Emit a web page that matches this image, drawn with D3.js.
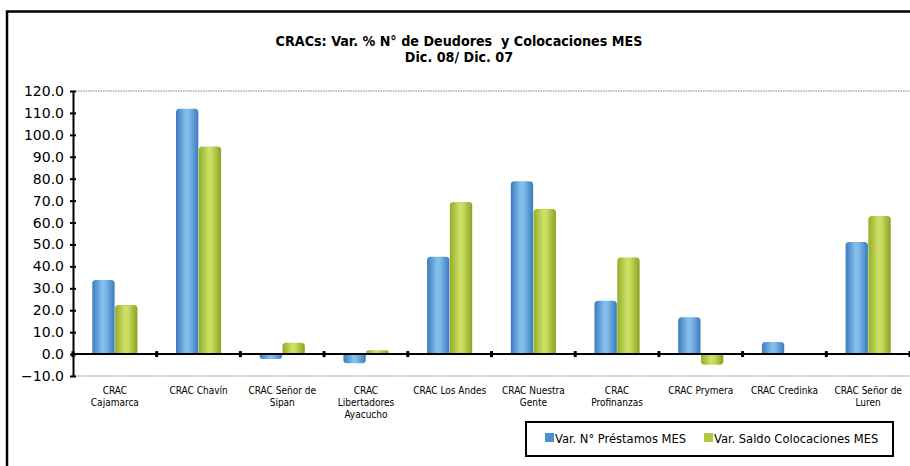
<!DOCTYPE html>
<html><head><meta charset="utf-8">
<script src="https://cdn.jsdelivr.net/npm/d3@7"></script>
<style>
html,body{margin:0;padding:0;background:#fff;}
svg{display:block;}
</style></head>
<body>
<svg id="chart" width="910" height="466"></svg>
<script>
const titleLines = ["CRACs: Var. % N° de Deudores  y Colocaciones MES", "Dic. 08/ Dic. 07"];
const categories = ["CRAC\nCajamarca", "CRAC Chavín", "CRAC Señor de\nSipan", "CRAC\nLibertadores\nAyacucho", "CRAC Los Andes", "CRAC Nuestra\nGente", "CRAC\nProfinanzas", "CRAC Prymera", "CRAC Credinka", "CRAC Señor de\nLuren"];
const seriesNames = ["Var. N° Préstamos MES", "Var. Saldo Colocaciones MES"];
const prestamos = [33.8, 111.9, -2.2, -4.2, 44.4, 78.8, 24.3, 16.8, 5.5, 51.1];
const colocaciones = [22.4, 94.7, 5.2, 1.8, 69.4, 66.2, 44.1, -4.9, 0.0, 63.0];
const yTicks = [-10, 0, 10, 20, 30, 40, 50, 60, 70, 80, 90, 100, 110, 120];

const svg = d3.select("#chart");
const defs = svg.append("defs");
function grad(id, stops){
  const g = defs.append("linearGradient").attr("id", id).attr("x1","0").attr("x2","1").attr("y1","0").attr("y2","0");
  stops.forEach(s => g.append("stop").attr("offset", s[0]).attr("stop-color", s[1]));
}
grad("gBlue", [[0,"#3a7cbf"],[0.45,"#86c0ec"],[0.6,"#7cb8e8"],[1,"#3a7bbd"]]);
grad("gGreen", [[0,"#94ad26"],[0.45,"#cfe16a"],[0.6,"#c6da5c"],[1,"#8aa11f"]]);
const fills = ["url(#gBlue)", "url(#gGreen)"];
const legendFills = ["#4a90d0", "#b0c93e"];

// outer frame
svg.append("path").attr("d","M7,466 V11.5 H910").attr("fill","none").attr("stroke","#000").attr("stroke-width",2.5);

const pLeft = 73, pRight = 910, pTop = 91, pBottom = 376;
const x0 = d3.scaleBand().domain(categories).range([pLeft, pRight]).padding(0);
const bw = x0.bandwidth();
const x1 = d3.scaleBand().domain(seriesNames).range([bw*0.225, bw*0.775]).padding(0.02);
const y = d3.scaleLinear().domain([-10, 120]).range([pBottom, pTop]);

// title
const title = svg.append("text").attr("x", 459).attr("y", 46).attr("text-anchor","middle")
  .style("white-space","pre")
  .style("font-family","'DejaVu Sans Condensed','DejaVu Sans',sans-serif").style("font-weight","bold").style("font-size","14.2px").attr("fill","#000");
titleLines.forEach((t,i)=> title.append("tspan").attr("x",459).attr("dy", i===0?0:16).text(t));

// gridlines top & bottom dotted
[120, -10].forEach(v => svg.append("line").attr("x1", pLeft).attr("x2", pRight).attr("y1", y(v)).attr("y2", y(v))
  .attr("stroke","#aaa").attr("stroke-width",1.5).attr("stroke-dasharray","1.5,1"));

// bars
const data = categories.map((c,i)=>({cat:c, vals:[prestamos[i], colocaciones[i]]}));
const g = svg.append("g");
data.forEach(d => {
  d.vals.forEach((v,k) => {
    if (v === 0) return;
    const xx = x0(d.cat) + x1(seriesNames[k]);
    const w = x1.bandwidth();
    const y0 = y(0), yv = y(v);
    const r = Math.min(3.5, Math.abs(y0-yv)/2);
    let p;
    if (v > 0) {
      p = `M${xx},${y0} V${yv+r} Q${xx},${yv} ${xx+r},${yv} H${xx+w-r} Q${xx+w},${yv} ${xx+w},${yv+r} V${y0} Z`;
    } else {
      p = `M${xx},${y0} V${yv-r} Q${xx},${yv} ${xx+r},${yv} H${xx+w-r} Q${xx+w},${yv} ${xx+w},${yv-r} V${y0} Z`;
    }
    g.append("path").attr("d", p).attr("fill", fills[k]);
  });
});

// y axis
const yAxis = d3.axisLeft(y).tickValues(yTicks).tickFormat(d3.format(".1f")).tickSizeInner(3).tickSizeOuter(0).tickPadding(6);
const ya = svg.append("g").attr("transform",`translate(${pLeft},0)`).call(yAxis);
ya.select(".domain").attr("stroke","#000").attr("stroke-width",2);
ya.selectAll(".tick line").attr("stroke","#000").attr("stroke-width",2).attr("x2",-3).attr("x1",3);
ya.selectAll(".tick text").style("font-family","'DejaVu Sans',sans-serif").style("font-size","14px").attr("fill","#000");

// x axis at zero
const xa = svg.append("g").attr("transform",`translate(0,${y(0)})`);
xa.append("line").attr("x1", pLeft).attr("x2", pRight).attr("stroke","#000").attr("stroke-width",2);
const bounds = categories.map(c => x0(c)).concat([pRight]);
xa.selectAll("line.tk").data(bounds).enter().append("line").attr("class","tk")
  .attr("x1", d=>d).attr("x2", d=>d).attr("y1",-3).attr("y2",3).attr("stroke","#000").attr("stroke-width",3);

// category labels
const labs = svg.append("g");
categories.forEach(c => {
  const t = labs.append("text").attr("text-anchor","middle")
    .style("font-family","'DejaVu Sans Condensed','DejaVu Sans',sans-serif").style("font-size","10px").attr("fill","#000");
  c.split("\n").forEach((line,i)=> t.append("tspan").attr("x", x0(c)+bw/2).attr("y", 394 + i*12).text(line));
});

// legend
svg.append("rect").attr("x",526).attr("y",422).attr("width",367).attr("height",34).attr("fill","#fff").attr("stroke","#000").attr("stroke-width",2);
const legX = [545, 704];
seriesNames.forEach((s,k)=>{
  svg.append("rect").attr("x",legX[k]).attr("y",433).attr("width",9).attr("height",9).attr("fill",legendFills[k]);
  svg.append("text").attr("x",legX[k]+10).attr("y",443).text(s)
    .style("font-family","'DejaVu Sans Condensed','DejaVu Sans',sans-serif").style("font-size","12.8px").attr("fill","#000");
});
</script>
</body></html>
